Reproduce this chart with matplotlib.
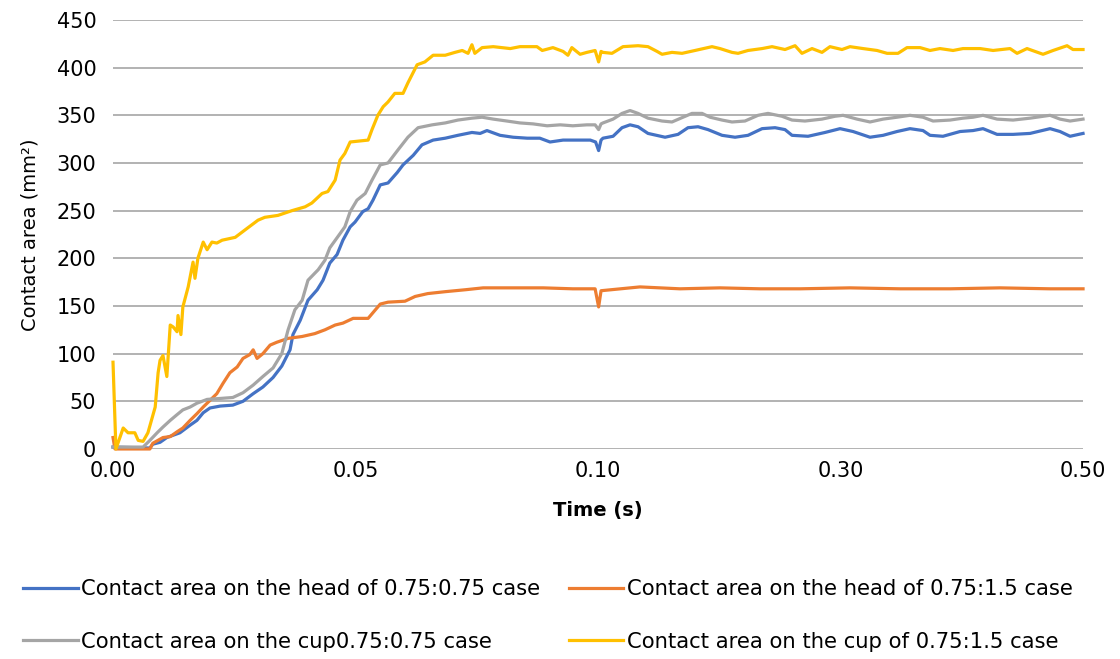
import numpy as np
import matplotlib
matplotlib.use("Agg")
import matplotlib.pyplot as plt

plt.rcParams['font.family'] = ['DejaVu Sans']

# time in ms, contact area in mm^2
t_head_075 = [0, 7.6, 8.2, 9.7, 11.1, 13.8, 15.9, 17.3, 18.6, 20.0, 22.1, 24.7, 26.8, 28.9,
              30.9, 33.0, 34.8, 36.5, 37.1, 38.6, 40.2, 42.1, 43.3, 44.7, 46.2, 47.4, 48.9,
              49.9, 51.5, 52.6, 53.6, 55.1, 56.7, 58.6, 59.8, 61.9, 63.7, 66.0, 68.5, 71.1,
              74.0, 75.7, 77.1, 79.8, 82.5, 85.4, 88.0, 90.1, 92.8, 95.7, 98.4, 99.5, 100.5,
              102.5, 104.1, 112.4, 119.8, 126.4, 133.0, 141.2, 155.3, 166.0, 174.2, 182.5,
              190.7, 202.3, 213.0, 223.7, 235.3, 246.0, 254.2, 260.0, 273.2, 287.2, 299.6,
              310.3, 324.3, 335.1, 346.6, 357.3, 368.0, 373.8, 384.5, 398.6, 409.3, 417.5,
              429.1, 442.3, 456.3, 472.8, 481.0, 489.3, 500]
a_head_075 = [2, 1, 5, 7, 12, 17, 25, 30, 38, 43, 45, 46, 50, 58,
              65, 75, 87, 104, 120, 135, 156, 167, 177, 195, 204, 219, 233,
              238, 249, 252, 261, 277, 279, 290, 298, 308, 319, 324, 326, 329,
              332, 331, 334, 329, 327, 326, 326, 322, 324, 324, 324, 322, 313,
              324, 326, 328, 337, 340, 338, 331, 327, 330, 337, 338,
              335, 329, 327, 329, 336, 337, 335, 329, 328, 332, 336,
              333, 327, 329, 333, 336, 334, 329, 328, 333, 334, 336,
              330, 330, 331, 336, 333, 328, 331]

t_head_15 = [0, 0.4, 7.6, 8.2, 10.3, 11.8, 13.2, 14.4, 15.9, 17.3, 18.6, 20.0, 21.4, 22.7,
             24.1, 25.6, 26.8, 28.2, 28.9, 29.7, 30.9, 32.4, 33.8, 36.1, 39.0, 41.6, 43.7,
             45.8, 47.4, 49.5, 52.6, 53.6, 55.1, 56.7, 60.2, 62.3, 64.9, 68.5, 72.6, 76.3,
             81.9, 88.7, 94.8, 99.4, 100.5, 102.5, 134.6, 167.6, 200.6, 233.6, 266.6,
             307.8, 349.1, 390.3, 431.5, 472.8, 500]
a_head_15 = [12, 0, 0, 6, 12, 13, 18, 22, 30, 37, 44, 51, 58, 69,
             80, 86, 95, 99, 104, 95, 100, 109, 112, 116, 118, 121, 125,
             130, 132, 137, 137, 143, 152, 154, 155, 160, 163, 165, 167, 169,
             169, 169, 168, 168, 149, 166, 170, 168, 169, 168, 168,
             169, 168, 168, 169, 168, 168]

t_cup_075 = [0, 6.2, 7.6, 9.1, 10.3, 11.8, 13.2, 14.4, 15.9, 17.3, 19.4, 22.1, 24.7, 26.8,
             28.9, 30.9, 33.0, 34.8, 36.1, 37.5, 39.0, 40.2, 42.3, 43.7, 44.7, 46.4, 47.8,
             48.9, 50.3, 52.0, 53.4, 55.1, 56.7, 58.8, 60.8, 62.9, 65.8, 68.5, 71.1, 74.0,
             76.1, 78.4, 81.2, 83.9, 86.6, 89.5, 92.2, 94.8, 97.7, 99.4, 100.5, 102.5,
             104.1, 112.4, 119.8, 126.4, 133.0, 141.2, 152.8, 161.0, 170.1, 177.5, 185.8,
             192.4, 202.3, 210.5, 221.2, 232.0, 240.2, 251.7, 260.0, 270.7, 284.7, 295.5,
             302.1, 313.6, 324.3, 335.1, 346.6, 357.3, 368.0, 376.3, 390.3, 401.0, 409.3,
             417.5, 429.1, 442.3, 456.3, 472.8, 481.0, 489.3, 500]
a_cup_075 = [2, 2, 9, 17, 23, 30, 36, 41, 44, 48, 52, 53, 54, 59,
             67, 76, 85, 100, 125, 146, 156, 177, 188, 198, 211, 223, 233,
             249, 261, 268, 282, 298, 300, 314, 327, 337, 340, 342, 345, 347,
             348, 346, 344, 342, 341, 339, 340, 339, 340, 340, 335, 341,
             342, 346, 352, 355, 352, 347, 344, 343, 348, 352, 352,
             348, 345, 343, 344, 350, 352, 349, 345, 344, 346, 349,
             350, 346, 343, 346, 348, 350, 348, 344, 345, 347, 348,
             350, 346, 345, 347, 350, 346, 344, 346]

t_cup_15 = [0, 0.6, 2.1, 3.1, 4.5, 5.2, 6.2, 7.2, 8.7, 9.3, 9.7, 10.3, 11.1, 11.8, 12.4,
            13.2, 13.4, 14.0, 14.4, 15.5, 16.5, 16.9, 17.5, 18.6, 19.4, 20.4, 21.4, 22.5,
            25.2, 27.8, 29.9, 31.3, 34.0, 36.9, 39.6, 41.0, 43.1, 44.3, 45.8, 46.8, 47.8,
            48.9, 52.6, 53.4, 54.6, 55.7, 56.7, 58.1, 59.8, 60.8, 62.7, 64.3, 66.0, 68.5,
            70.5, 72.0, 73.2, 74.0, 74.6, 76.1, 78.4, 81.9, 83.9, 87.4, 88.5, 90.7, 92.8,
            93.8, 94.6, 96.3, 97.7, 99.4, 100.5, 102.5, 104.1, 111.5, 120.6, 133.0, 141.2,
            148.7, 152.8, 161.0, 169.3, 180.0, 194.0, 200.6, 210.5, 215.5, 223.7, 235.3,
            243.5, 254.2, 262.5, 268.2, 276.5, 284.7, 291.3, 301.2, 307.8, 318.6, 330.1,
            338.4, 347.4, 354.8, 365.6, 373.8, 382.0, 392.8, 401.0, 415.1, 425.8, 439.8,
            445.6, 453.8, 467.0, 475.3, 486.8, 491.7, 500]
a_cup_15 = [91, 0, 22, 17, 17, 9, 8, 17, 44, 80, 93, 98, 76, 130, 128,
            123, 140, 120, 149, 170, 196, 179, 200, 217, 209, 217, 216, 219,
            222, 232, 240, 243, 245, 250, 254, 258, 268, 270, 282, 303, 310,
            322, 324, 335, 350, 359, 364, 373, 373, 384, 403, 406, 413, 413,
            416, 418, 415, 424, 415, 421, 422, 420, 422, 422, 418, 421, 417,
            413, 421, 414, 416, 418, 406, 417, 416, 415, 422, 423, 422,
            417, 414, 416, 415, 418, 422, 420, 416, 415, 418, 420,
            422, 419, 423, 415, 420, 416, 422, 419, 422, 420, 418,
            415, 415, 421, 421, 418, 420, 418, 420, 420, 418, 420,
            415, 420, 414, 418, 423, 419, 419]

labels = ["Contact area on the head of 0.75:0.75 case",
          "Contact area on the head of 0.75:1.5 case",
          "Contact area on the cup0.75:0.75 case",
          "Contact area on the cup of 0.75:1.5 case"]
colors = ["#4472C4", "#ED7D31", "#A5A5A5", "#FFC000"]
tick_times = [0.0, 0.05, 0.10, 0.30, 0.50]


# the sheet axis gives 0-0.1 s the same width as 0.1-0.5 s
def fwd(t):
    t = np.asarray(t, dtype=float)
    return np.where(t <= 0.1, t, 0.1 + (t - 0.1) / 4)


def inv(u):
    u = np.asarray(u, dtype=float)
    return np.where(u <= 0.1, u, 0.1 + (u - 0.1) * 4)


fig = plt.figure(figsize=(11.2, 6.59), dpi=100)
ax = fig.add_axes([0.1009, 0.3187, 0.8661, 0.651])
ax.set_xscale('function', functions=(fwd, inv))

series = [(t_head_075, a_head_075), (t_head_15, a_head_15),
          (t_cup_075, a_cup_075), (t_cup_15, a_cup_15)]
lines = []
for (t, a), c, lab in zip(series, colors, labels):
    ln, = ax.plot(np.array(t) / 1000, a, color=c, lw=2.3, label=lab, clip_on=False,
                  solid_joinstyle='round')
    lines.append(ln)

ax.set_xlim(0, 0.5)
ax.set_ylim(0, 450)
ax.set_yticks(np.arange(0, 451, 50))
ax.set_xticks(tick_times)
ax.set_xticklabels([f"{v:.2f}" for v in tick_times])
ax.grid(axis='y', color='#a6a6a6', lw=1.2)
ax.set_axisbelow(True)
for s in ax.spines.values():
    s.set_visible(False)
ax.tick_params(length=0, labelsize=15, colors='#000000')
ax.tick_params(axis='y', pad=12)
ax.tick_params(axis='x', pad=9)

ax.set_xlabel("Time (s)", fontsize=14, fontweight='bold', labelpad=14)
ax.set_ylabel("Contact area (mm²)", fontsize=14, labelpad=12)

# legend is filled row by row in the sheet
order = [0, 2, 1, 3]
fig.legend([lines[i] for i in order], [labels[i] for i in order],
           loc='center', bbox_to_anchor=(0.489, 0.066), ncol=2, frameon=False,
           fontsize=15.2, handlelength=2.6, handletextpad=0.15, columnspacing=1.35,
           labelspacing=1.55)

fig.savefig("out.png", dpi=100)
